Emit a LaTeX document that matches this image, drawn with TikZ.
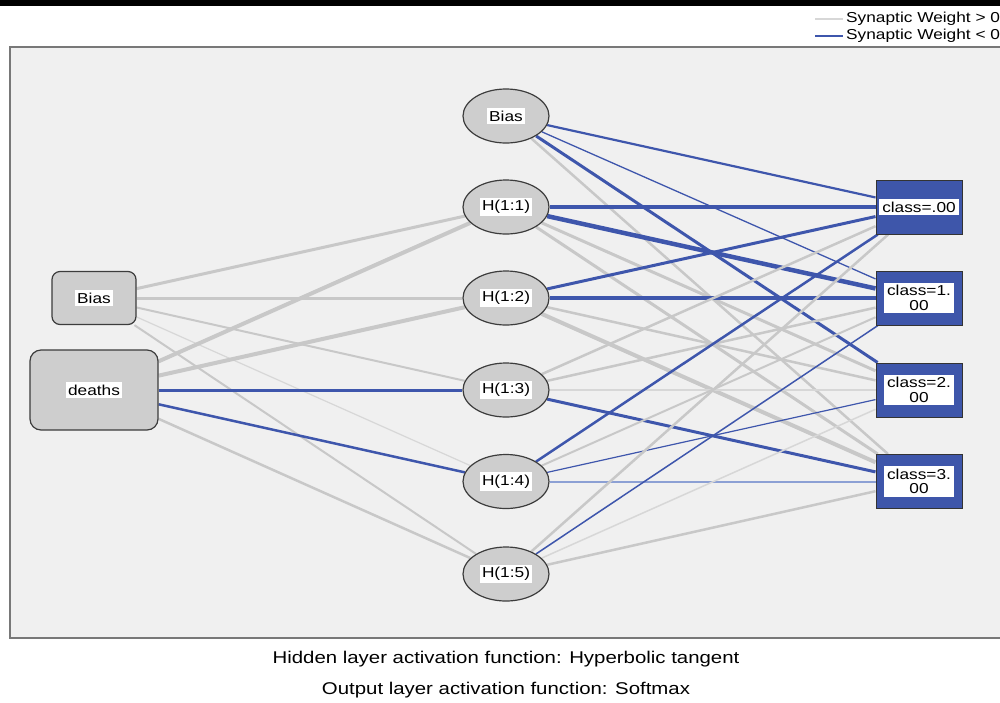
\documentclass[tikz,border=0pt]{standalone}
\usepackage{fontspec}
\setmainfont{Liberation Sans}
\usetikzlibrary{shapes.geometric}
\pgfdeclarelayer{bottom}
\pgfdeclarelayer{background}
\pgfsetlayers{bottom,background,main}
\definecolor{wblue}{RGB}{62,86,172}
\definecolor{lblue}{RGB}{140,160,212}
\definecolor{wgray}{RGB}{200,200,200}
\definecolor{lgray}{RGB}{215,215,215}
\definecolor{panelbg}{RGB}{240,240,240}
\definecolor{panelbd}{RGB}{120,120,120}
\definecolor{nodefill}{RGB}{206,206,206}
\definecolor{nodebd}{RGB}{60,60,60}
\definecolor{outblue}{RGB}{62,86,170}
\newcommand\wtxt[1]{\scalebox{1.2}[1]{#1}}
\tikzset{
  inbox/.style={draw=nodebd, line width=1.2pt, fill=nodefill, rounded corners=8pt, inner sep=0pt},
  hid/.style={ellipse, draw=nodebd, line width=1.2pt, fill=nodefill, minimum width=86pt, minimum height=54pt, inner sep=0pt},
  outbox/.style={rectangle, draw=black!80, line width=1pt, fill=outblue, minimum width=86pt, minimum height=54pt, inner sep=0pt},
  lab/.style={fill=white, inner xsep=2pt, inner ysep=2.5pt, font=\fontsize{14.4}{15}\selectfont, align=center},
  olab/.style={fill=white, inner xsep=3.5pt, inner ysep=2.5pt, font=\fontsize{14.4}{14.5}\selectfont, align=center},
  wpos/.style={draw=wgray},
  wposl/.style={draw=lgray},
  wneg/.style={draw=wblue},
  wnegl/.style={draw=lblue},
}
\begin{document}
\begin{tikzpicture}[x=1pt,y=-1pt]
\useasboundingbox (0,0) rectangle (1000,702);
\begin{pgfonlayer}{bottom}
\fill[white] (0,0) rectangle (1000,702);
\fill[black] (0,0) rectangle (1000,6);
% panel
\draw[panelbd, fill=panelbg, line width=1.5pt] (10,47) rectangle (1010,638);
\end{pgfonlayer}
% legend
\coordinate (lg1a) at (815,19); \coordinate (lg1b) at (843,19);
\coordinate (lg2a) at (815,36); \coordinate (lg2b) at (843,36);
\draw[lgray, line width=1.5pt] (lg1a) -- (lg1b);
\draw[wblue, line width=1.5pt] (lg2a) -- (lg2b);
\node[anchor=west, inner sep=0pt, font=\fontsize{14.4}{15}\selectfont] (leg1) at (846,19) {\wtxt{Synaptic Weight > 0}};
\node[anchor=west, inner sep=0pt, font=\fontsize{14.4}{15}\selectfont] (leg2) at (846,36) {\wtxt{Synaptic Weight < 0}};
% input nodes
\node[inbox, minimum width=84pt, minimum height=53pt] (ib) at (94,298) {};
\node[lab] at (ib) {\wtxt{Bias}};
\node[inbox, minimum width=128pt, minimum height=80pt, rounded corners=11pt] (dt) at (94,390) {};
\node[lab] at (dt) {\wtxt{deaths}};
% hidden nodes
\node[hid] (hb) at (506,116) {};
\node[lab] at (hb) {\wtxt{Bias}};
\node[hid] (h1) at (506,207) {};
\node[lab] at (h1) {\wtxt{H(1:1)}};
\node[hid] (h2) at (506,298) {};
\node[lab] at (h2) {\wtxt{H(1:2)}};
\node[hid] (h3) at (506,390) {};
\node[lab] at (h3) {\wtxt{H(1:3)}};
\node[hid] (h4) at (506,481.5) {};
\node[lab] at (h4) {\wtxt{H(1:4)}};
\node[hid] (h5) at (506,574) {};
\node[lab] at (h5) {\wtxt{H(1:5)}};
% output nodes
\node[outbox] (c0) at (919,207) {};
\node[olab] at (c0) {\wtxt{class=.00}};
\node[outbox] (c1) at (919,298) {};
\node[olab] at (c1) {\wtxt{class=1.}\\\wtxt{00}};
\node[outbox] (c2) at (919,390) {};
\node[olab] at (c2) {\wtxt{class=2.}\\\wtxt{00}};
\node[outbox] (c3) at (919,481.5) {};
\node[olab] at (c3) {\wtxt{class=3.}\\\wtxt{00}};
% connections
\begin{pgfonlayer}{background}
\draw[wpos, line width=3pt] (ib) -- (h1);
\draw[wpos, line width=3pt] (ib) -- (h2);
\draw[wpos, line width=2pt] (ib) -- (h3);
\draw[wposl, line width=1.2pt] (ib) -- (h4);
\draw[wpos, line width=2pt] (ib) -- (h5);
\draw[wpos, line width=4pt] (dt) -- (h1);
\draw[wpos, line width=4pt] (dt) -- (h2);
\draw[wneg, line width=3pt] (dt) -- (h3);
\draw[wneg, line width=2.5pt] (dt) -- (h4);
\draw[wpos, line width=2.5pt] (dt) -- (h5);
%
\draw[wneg, line width=2.2pt] (hb) -- (c0);
\draw[wneg, line width=1.3pt] (hb) -- (c1);
\draw[wneg, line width=3pt] (hb) -- (c2);
\draw[wpos, line width=2.5pt] (hb) -- (c3);
\draw[wneg, line width=4pt] (h1) -- (c0);
\draw[wneg, line width=4.5pt] (h1) -- (c1);
\draw[wpos, line width=3pt] (h1) -- (c2);
\draw[wpos, line width=3pt] (h1) -- (c3);
\draw[wneg, line width=3pt] (h2) -- (c0);
\draw[wneg, line width=4pt] (h2) -- (c1);
\draw[wpos, line width=2.5pt] (h2) -- (c2);
\draw[wpos, line width=4pt] (h2) -- (c3);
\draw[wpos, line width=2.5pt] (h3) -- (c0);
\draw[wpos, line width=2.5pt] (h3) -- (c1);
\draw[wposl, line width=2pt] (h3) -- (c2);
\draw[wneg, line width=3pt] (h3) -- (c3);
\draw[wneg, line width=2.5pt] (h4) -- (c0);
\draw[wpos, line width=2pt] (h4) -- (c1);
\draw[wneg, line width=1.2pt] (h4) -- (c2);
\draw[wnegl, line width=2pt] (h4) -- (c3);
\draw[wpos, line width=2.5pt] (h5) -- (c0);
\draw[wneg, line width=1.5pt] (h5) -- (c1);
\draw[wposl, line width=1.5pt] (h5) -- (c2);
\draw[wpos, line width=2.5pt] (h5) -- (c3);
\end{pgfonlayer}
% captions
\node[font=\fontsize{17}{18}\selectfont, inner sep=0pt] (cap1) at (506,659) {\wtxt{Hidden layer activation function: Hyperbolic tangent}};
\node[font=\fontsize{17}{18}\selectfont, inner sep=0pt] (cap2) at (506,690) {\wtxt{Output layer activation function: Softmax}};
\end{tikzpicture}
\end{document}
